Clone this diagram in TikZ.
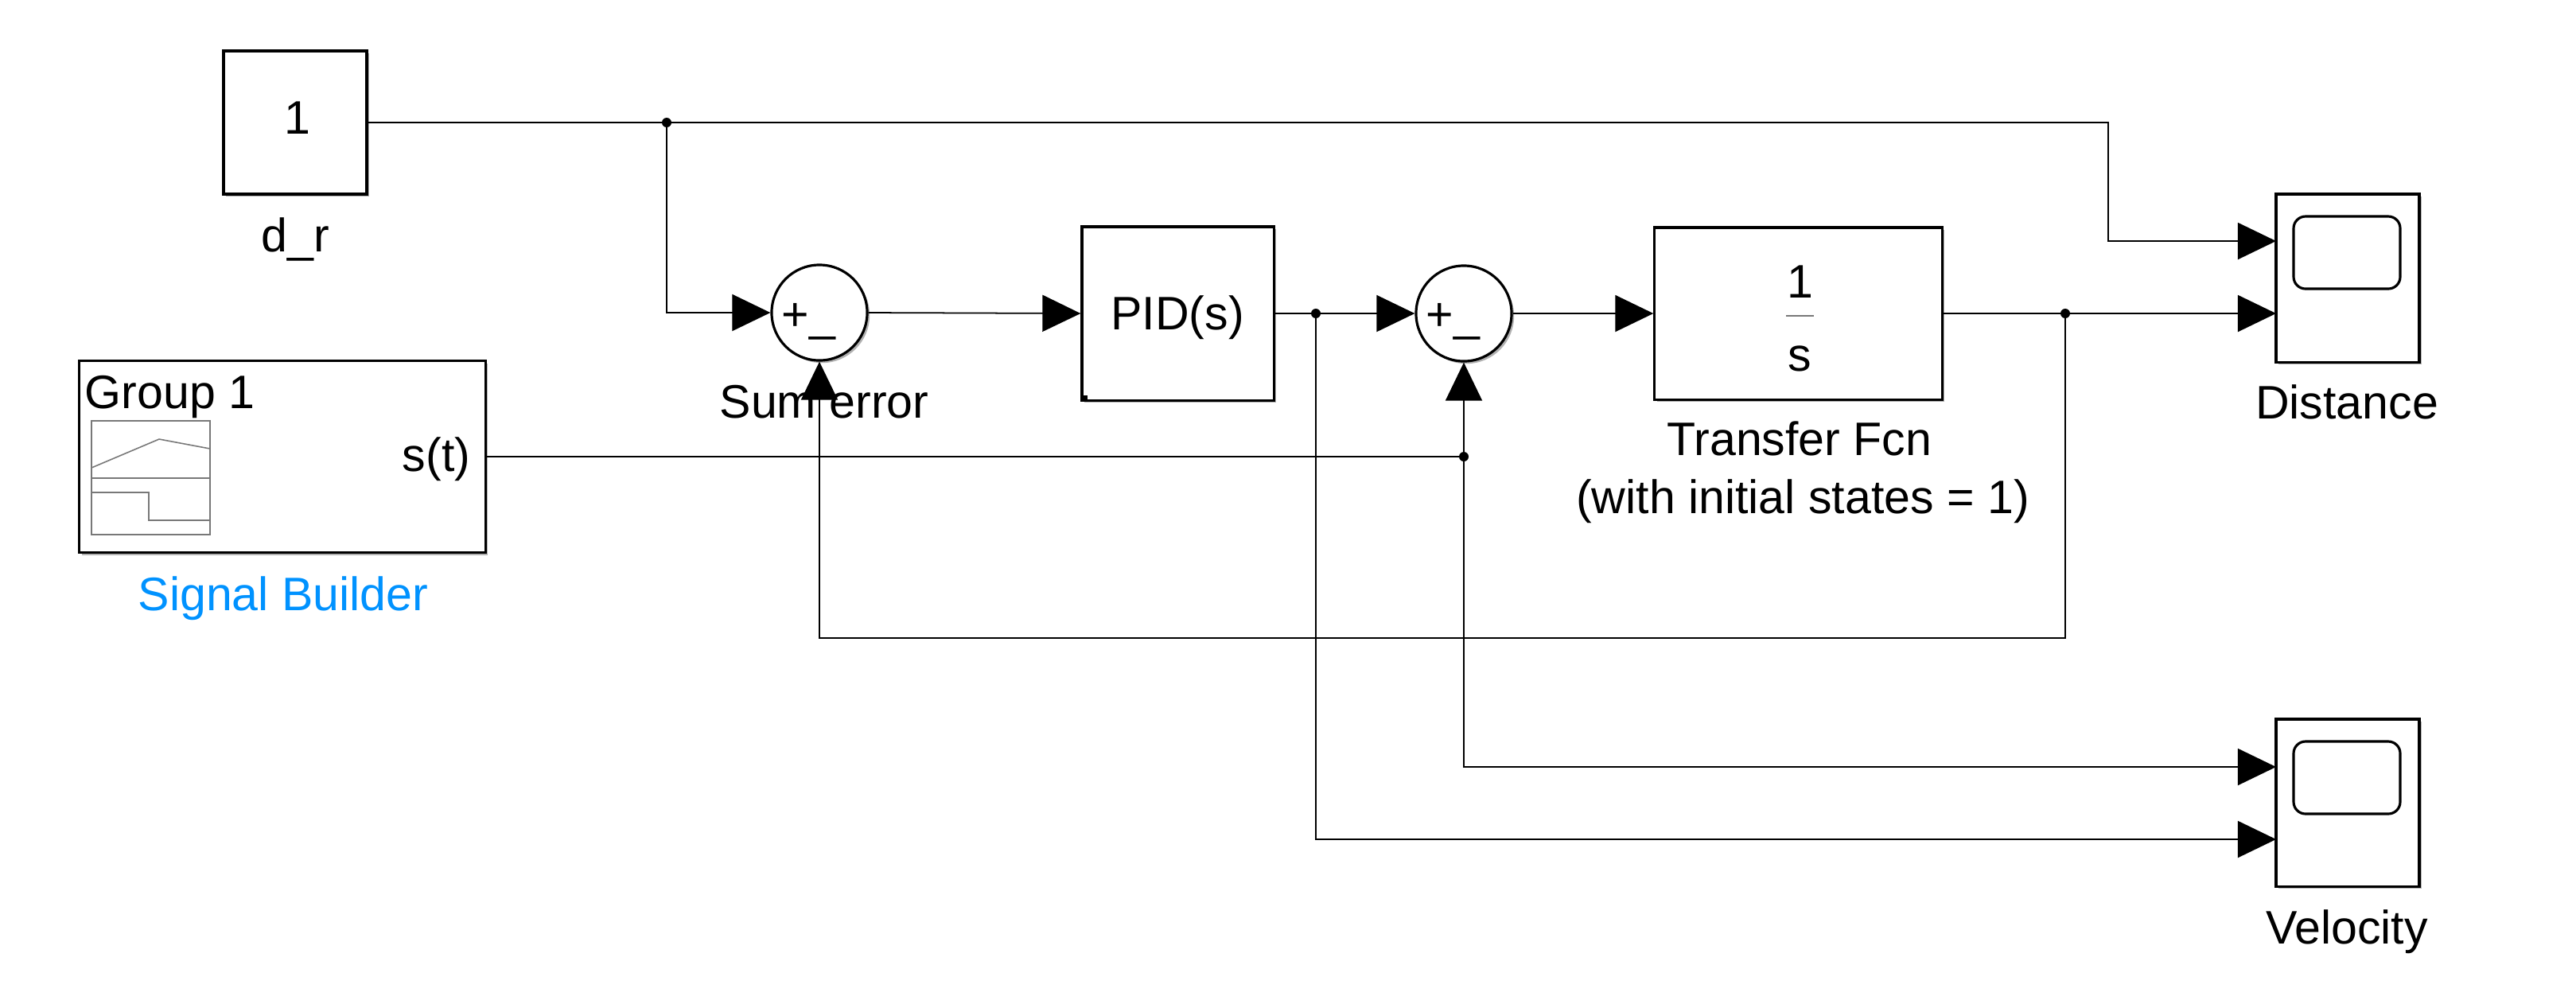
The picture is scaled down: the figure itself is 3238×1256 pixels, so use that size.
\documentclass[tikz,border=0pt]{standalone}
\usepackage{fontspec}
\setmainfont{Liberation Sans}
\usetikzlibrary{arrows.meta,shadows}
\definecolor{sbblue}{RGB}{0,146,255}
\definecolor{icongray}{RGB}{120,120,120}
\begin{document}
\begin{tikzpicture}[x=0.01cm,y=-0.01cm,
  txt/.style={font=\fontsize{16.8}{20}\selectfont, inner sep=0pt},
  shad/.style={drop shadow={shadow xshift=0.9pt, shadow yshift=-0.9pt, opacity=0.3, fill=black}},
  blk/.style={draw=black, line width=0.9pt, fill=white, shad, inner sep=0pt},
  sumblk/.style={circle, draw=black, line width=0.9pt, fill=white, shad, minimum size=1.2cm, inner sep=0pt},
  sig/.style={line width=0.5pt},
  arr/.style={sig, -{Triangle[length=0.48cm,width=0.46cm]}},
  jdot/.style={circle, fill=black, inner sep=0pt, minimum size=0.12cm},
  icon/.style={draw=icongray, line width=0.45pt}
]
\useasboundingbox (0,0) rectangle (3238,1256);

% Constant d_r
\node[blk, minimum width=1.8cm, minimum height=1.8cm] (const) at (371,154) {};
\node[txt, anchor=base] (constv) at (374,168) {1};
\node[txt, anchor=base] (constl) at (371,316) {d\_r};

% Signal builder
\node[blk, minimum width=5.1cm, minimum height=2.41cm] (sb) at (355,574) {};
\node[txt, anchor=base west] (sbg) at (106,513) {Group 1};
\node[txt, anchor=base east] (sbs) at (592,592) {s(t)};
\draw[icon] (115,529) rectangle (264,672);
\draw[icon] (115,601) -- (264,601);
\draw[icon] (115,588) -- (200,552) -- (264,564);
\draw[icon] (115,619) -- (187,619) -- (187,654) -- (264,654);
\node[txt, anchor=base, text=sbblue] (sbl) at (356,767) {Signal Builder};

% Sum error
\node[sumblk] (sum1) at (1030,393) {};
\node[txt, anchor=base west] (sum1s) at (982,415) {+\_};

% PID
\node[blk, minimum width=2.41cm, minimum height=2.18cm] (pid) at (1480.5,394) {};
\node[txt, anchor=base] (pidt) at (1480,414) {PID(s)};
\fill (1361,497) rectangle (1367,503);

% Sum 2
\node[sumblk] (sum2) at (1840,394) {};
\node[txt, anchor=base west] (sum2s) at (1792,415) {+\_};

% Transfer Fcn
\node[blk, minimum width=3.61cm, minimum height=2.16cm] (tf) at (2260.5,394) {};
\node[txt, anchor=base] (tfn) at (2263,374) {1};
\draw[icongray, line width=0.6pt] (2245,397) -- (2280,397);
\node[txt, anchor=base] (tfd) at (2262,466) {s};
\node[txt, anchor=base] (tfl1) at (2262,572) {Transfer Fcn};
\node[txt, anchor=base] (tfl2) at (2266,645) {(with initial states = 1)};

% Scopes
\node[blk, minimum width=1.8cm, minimum height=2.11cm] (sc1) at (2951,349.5) {};
\draw[line width=0.9pt, rounded corners=0.15cm] (2883,272) rectangle (3017,363);
\node[txt, anchor=base] (sc1l) at (2950,526) {Distance};
\node[blk, minimum width=1.8cm, minimum height=2.1cm] (sc2) at (2951,1009) {};
\draw[line width=0.9pt, rounded corners=0.15cm] (2883,932) rectangle (3017,1023);
\node[txt, anchor=base] (sc2l) at (2950,1186) {Velocity};

% Port coordinates
\coordinate (sc1in1) at (2861,303);
\coordinate (sc1in2) at (2861,394);
\coordinate (sc2in1) at (2861,964);
\coordinate (sc2in2) at (2861,1055);
\coordinate (j1) at (838,154);
\coordinate (j2) at (1654,394);
\coordinate (j3) at (2596,394);
\coordinate (j4) at (1840,574);
\coordinate (fb) at (2596,802);

% Signals
\draw[sig] (const.east) -- (j1);
\draw[arr] (j1) -- (2650,154) -- (2650,303) -- (sc1in1);
\draw[arr] (j1) |- (sum1.west);
\draw[arr] (sum1.east) -- (pid.west);
\draw[sig] (pid.east) -- (j2);
\draw[arr] (j2) -- (sum2.west);
\draw[arr] (sum2.east) -- (tf.west);
\draw[sig] (tf.east) -- (j3);
\draw[arr] (j3) -- (sc1in2);
\draw[arr] (j3) -- (fb) -| (sum1.south);
\draw[sig] (sb.east) -- (j4);
\draw[arr] (j4) -- (sum2.south);
\draw[arr] (j4) |- (sc2in1);
\draw[arr] (j2) |- (sc2in2);

\node[jdot] at (j1) {};
\node[jdot] at (j2) {};
\node[jdot] at (j3) {};
\node[jdot] at (j4) {};

% Sum error label (drawn on top)
\node[txt, anchor=base] (sum1l) at (1036,525) {Sum error};
\end{tikzpicture}
\end{document}
